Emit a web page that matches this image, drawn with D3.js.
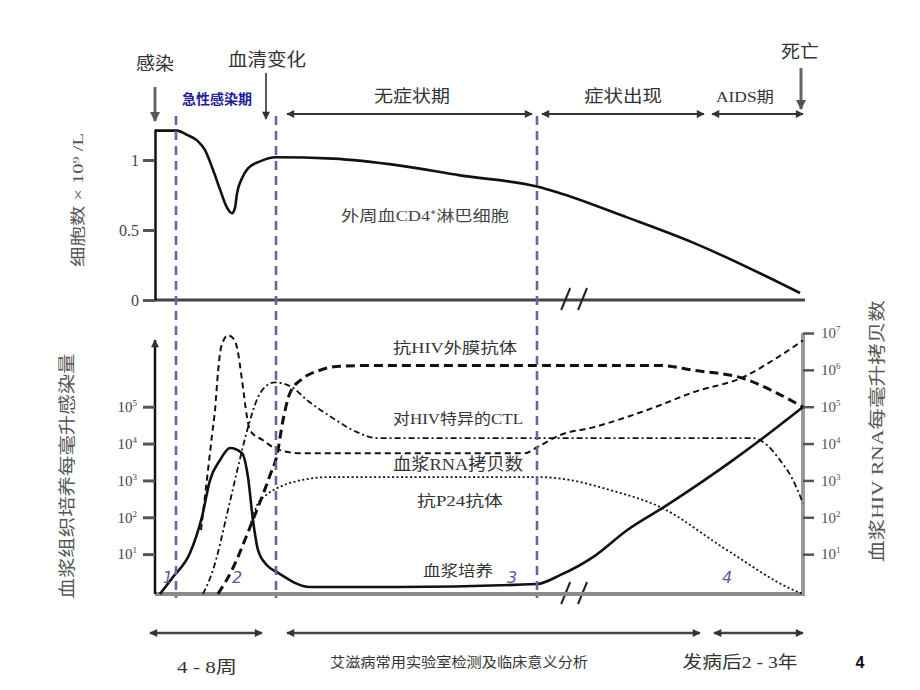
<!DOCTYPE html>
<html><head><meta charset="utf-8">
<script src="https://cdn.jsdelivr.net/npm/d3@7"></script>
<style>body{margin:0;background:#fff}svg{display:block}</style>
</head><body>
<svg id="chart" width="920" height="690"></svg>
<script>
// ---------------- DATA (x = time units 0..100, top y = 10^9/L, bottom y = log10 copies) ----------------
const cd4Count = [[0,1.21],[3.4,1.21],[4.94,1.18],[6.48,1.14],[7.72,1.07],[8.95,0.93],[10.03,0.79],[11.11,0.66],[11.88,0.62],[12.35,0.66],[12.65,0.76],[13.43,0.87],[14.35,0.94],[16.2,0.99],[18.67,1.02],[27.47,1.01],[37.81,0.96],[47.07,0.89],[58.95,0.81],[62.04,0.77],[72.84,0.59],[83.02,0.41],[99.54,0.05]];
const plasmaCulture = [[0.77,-0.08],[2.78,0.38],[5.4,1.03],[7.25,2.01],[8.49,3.01],[10.03,3.55],[11.57,3.88],[13.43,3.74],[14.35,3.09],[15.12,1.92],[15.9,1.11],[17.28,0.7],[18.83,0.51],[23.92,0.11],[37.81,0.11],[58.95,0.19],[62.5,0.43],[67.59,0.92],[72.84,1.65],[79.01,2.33],[89.2,3.55],[93.83,4.15],[100,4.99]];
const plasmaRNA = [[7.1,1.65],[8.18,3.28],[8.8,4.23],[9.26,4.91],[9.72,5.93],[10.19,6.61],[11.27,6.94],[12.19,6.83],[12.65,6.61],[13.43,5.72],[14.2,4.72],[14.66,4.36],[16.67,4.09],[18.83,3.85],[22.38,3.74],[57.1,3.74],[58.95,3.9],[62.5,4.23],[67.59,4.44],[72.84,4.72],[77.93,5.04],[83.02,5.39],[90.74,5.8],[95.37,6.26],[100,6.8]];
const ctlResponse = [[7.41,-0.08],[8.95,0.57],[11.27,2.2],[12.81,3.36],[14.35,4.44],[15.9,5.26],[17.28,5.58],[18.52,5.66],[21.14,5.53],[23.46,5.18],[27.47,4.69],[31.17,4.31],[34.26,4.15],[40.9,4.15],[92.28,4.15],[94.44,3.96],[96.45,3.55],[98.46,3.01],[100,2.38]];
const envAntibody = [[9.72,-0.08],[11.88,0.57],[14.66,1.73],[16.51,2.55],[17.75,3.14],[18.83,3.69],[19.75,4.63],[20.83,5.37],[22.84,5.77],[25.46,5.99],[28.55,6.1],[34.72,6.12],[77.93,6.12],[83.02,5.99],[90.74,5.77],[95.99,5.37],[100,4.99]];
const p24Antibody = [[14.8,1.85],[15.9,2.38],[17.13,2.6],[18.83,2.79],[21.91,2.98],[27.0,3.09],[59.41,3.09],[64.04,3.01],[70.22,2.74],[77.93,2.28],[88.27,1.11],[98.46,0.03],[100,-0.08]];
const topTicks = [0, 0.5, 1];
const topTickLabels = ["0", "0.5", "1"];
const leftLogTicks = [1, 2, 3, 4, 5];
const rightLogTicks = [1, 2, 3, 4, 5, 6, 7];
const phaseBoundaries = [3.24, 18.67, 58.95];
const phaseNumbers = [{t:2.0,label:"1"},{t:12.65,label:"2"},{t:55.1,label:"3"},{t:88.27,label:"4"}];
const topSpans = [[20.37,58.18],[59.72,84.72],[85.96,100]];
const bottomSpans = [[-0.77,16.51],[20.37,84.1],[86.27,100]];
const breakAt = [63.3, 65.9];

// ---------------- SETUP ----------------
const svg = d3.select("#chart");
const serif = "'Liberation Serif','Noto Sans CJK SC',serif";
const cjk = "'Noto Sans CJK SC',sans-serif";
const x = d3.scaleLinear().domain([0,100]).range([155,803]);
const yTop = d3.scaleLinear().domain([0,1.22]).range([300,129.2]);
const yBot = d3.scaleLinear().domain([0,7]).range([591,333]);
const topBase = 300, botBase = 594;

const defs = svg.append("defs");
function marker(id, color, w, h){
  defs.append("marker").attr("id",id).attr("viewBox","0 0 10 10").attr("refX",9).attr("refY",5)
    .attr("markerWidth",w).attr("markerHeight",h).attr("markerUnits","userSpaceOnUse")
    .attr("orient","auto-start-reverse")
    .append("path").attr("d","M0,0L10,5L0,10Z").attr("fill",color);
}
marker("ah","#333",11,8);
marker("ahg","#555",12,10);

// ---------------- TOP PANEL ----------------
svg.append("line").attr("x1",x(0)).attr("x2",x(100)+2).attr("y1",topBase).attr("y2",topBase)
  .attr("stroke","#444").attr("stroke-width",3);
const axT = svg.append("g").attr("transform",`translate(${x(0)},0)`)
  .call(d3.axisLeft(yTop).tickValues(topTicks).tickSize(12).tickSizeOuter(0)
    .tickFormat((d,i)=>topTickLabels[i]));
axT.select(".domain").attr("stroke","#111").attr("stroke-width",2.5);
axT.selectAll(".tick line").attr("stroke","#555").attr("stroke-width",3);
axT.selectAll(".tick text").attr("font-family",serif).attr("font-size",16).attr("fill","#444").attr("x",-16);

const lineTop = d3.line().x(d=>x(d[0])).y(d=>yTop(d[1])).curve(d3.curveMonotoneX);
svg.append("path").attr("d",lineTop(cd4Count)).attr("fill","none").attr("stroke","#111").attr("stroke-width",2.6);

breakAt.forEach(b=>{
  svg.append("line").attr("x1",x(b)-4).attr("x2",x(b)+5).attr("y1",topBase+10).attr("y2",topBase-12)
    .attr("stroke","#222").attr("stroke-width",2);
  svg.append("line").attr("x1",x(b)-4).attr("x2",x(b)+5).attr("y1",botBase+10).attr("y2",botBase-12)
    .attr("stroke","#222").attr("stroke-width",2);
});

svg.append("text").attr("transform","translate(80,200) rotate(-90)").attr("text-anchor","middle")
  .attr("dominant-baseline","middle").attr("font-family",serif).attr("font-size",15).attr("fill","#555")
  .attr("textLength",134).attr("lengthAdjust","spacingAndGlyphs").text("细胞数 × 10⁹ /L");
svg.append("text").attr("x",425).attr("y",221).attr("text-anchor","middle").attr("font-family",serif)
  .attr("font-size",15).attr("fill","#444").attr("textLength",168).attr("lengthAdjust","spacingAndGlyphs")
  .text("外周血CD4⁺淋巴细胞");

// ---------------- BOTTOM PANEL ----------------
svg.append("line").attr("x1",x(0)).attr("x2",x(100)+2).attr("y1",botBase).attr("y2",botBase)
  .attr("stroke","#8a8a8a").attr("stroke-width",4);
svg.append("line").attr("x1",x(0)).attr("x2",x(0)).attr("y1",botBase).attr("y2",340)
  .attr("stroke","#111").attr("stroke-width",2.5).attr("marker-end","url(#ah)");
function supTicks(g){
  g.selectAll(".tick text").each(function(d){
    const t = d3.select(this); t.text("10");
    t.append("tspan").attr("dy",-6).attr("font-size",9).text(d);
  });
}
const axL = svg.append("g").attr("transform",`translate(${x(0)},0)`)
  .call(d3.axisLeft(yBot).tickValues(leftLogTicks).tickSize(12));
axL.select(".domain").remove();
axL.selectAll(".tick line").attr("stroke","#555").attr("stroke-width",3);
axL.selectAll(".tick text").attr("font-family",serif).attr("font-size",15).attr("fill","#444").attr("x",-18);
supTicks(axL);
svg.append("line").attr("x1",x(100)).attr("x2",x(100)).attr("y1",botBase+1).attr("y2",yBot(7))
  .attr("stroke","#999").attr("stroke-width",4);
const axR = svg.append("g").attr("transform",`translate(${x(100)},0)`)
  .call(d3.axisRight(yBot).tickValues(rightLogTicks).tickSize(11));
axR.select(".domain").remove();
axR.selectAll(".tick line").attr("stroke","#555").attr("stroke-width",2.5);
axR.selectAll(".tick text").attr("font-family",serif).attr("font-size",15).attr("fill","#555").attr("x",18);
supTicks(axR);

const lineBot = d3.line().x(d=>x(d[0])).y(d=>yBot(d[1])).curve(d3.curveMonotoneX);
const seriesStyles = [
  {data:envAntibody, w:3, dash:"9,5"},
  {data:ctlResponse, w:1.8, dash:"6,3,2,3"},
  {data:plasmaRNA, w:2, dash:"6,4"},
  {data:p24Antibody, w:1.8, dash:"2,2.5"},
  {data:plasmaCulture, w:2.6, dash:null}
];
seriesStyles.forEach(s=>{
  svg.append("path").attr("d",lineBot(s.data)).attr("fill","none").attr("stroke","#111")
    .attr("stroke-width",s.w).attr("stroke-dasharray",s.dash);
});

const seriesLabels = [
  {t:"抗HIV外膜抗体", x:455, y:353, len:124},
  {t:"对HIV特异的CTL", x:458, y:424, len:130},
  {t:"血浆RNA拷贝数", x:458, y:470, len:130, fs:17},
  {t:"抗P24抗体", x:460, y:506, len:86},
  {t:"血浆培养", x:458, y:576, len:70}
];
seriesLabels.forEach(l=>{
  svg.append("text").attr("x",l.x).attr("y",l.y).attr("text-anchor","middle").attr("font-family",serif)
    .attr("font-size",l.fs||15).attr("fill","#333").attr("textLength",l.len).attr("lengthAdjust","spacingAndGlyphs").text(l.t);
});

svg.append("text").attr("transform","translate(69,476) rotate(-90)").attr("text-anchor","middle")
  .attr("dominant-baseline","middle").attr("font-family",serif).attr("font-size",17).attr("fill","#555")
  .attr("textLength",245).attr("lengthAdjust","spacingAndGlyphs").text("血浆组织培养每毫升感染量");
svg.append("text").attr("transform","translate(879,431) rotate(-90)").attr("text-anchor","middle")
  .attr("dominant-baseline","middle").attr("font-family",serif).attr("font-size",17).attr("fill","#555")
  .attr("textLength",262).attr("lengthAdjust","spacingAndGlyphs").text("血浆HIV RNA每毫升拷贝数");

// ---------------- PHASE GUIDES ----------------
phaseBoundaries.forEach(p=>{
  svg.append("line").attr("x1",x(p)).attr("x2",x(p)).attr("y1",116).attr("y2",598)
    .attr("stroke","#6464a6").attr("stroke-width",2.6).attr("stroke-dasharray","9,6");
});
phaseNumbers.forEach(p=>{
  svg.append("text").attr("x",x(p.t)).attr("y",583).attr("text-anchor","middle").attr("font-family","'DejaVu Sans',sans-serif")
    .attr("font-style","italic").attr("font-size",16).attr("fill","#5a5aa8").text(p.label);
});

// ---------------- TIMELINE ARROWS ----------------
topSpans.forEach(s=>{
  svg.append("line").attr("x1",x(s[0])).attr("x2",x(s[1])).attr("y1",114).attr("y2",114)
    .attr("stroke","#333").attr("stroke-width",2).attr("marker-start","url(#ah)").attr("marker-end","url(#ah)");
});
bottomSpans.forEach(s=>{
  svg.append("line").attr("x1",x(s[0])).attr("x2",x(s[1])).attr("y1",633).attr("y2",633)
    .attr("stroke","#444").attr("stroke-width",2.5).attr("marker-start","url(#ah)").attr("marker-end","url(#ah)");
});
svg.append("line").attr("x1",x(0)).attr("x2",x(0)).attr("y1",87).attr("y2",121)
  .attr("stroke","#666").attr("stroke-width",3).attr("marker-end","url(#ahg)");
svg.append("line").attr("x1",266).attr("x2",266).attr("y1",73).attr("y2",119)
  .attr("stroke","#222").attr("stroke-width",1.5).attr("marker-end","url(#ah)");
svg.append("line").attr("x1",801).attr("x2",801).attr("y1",68).attr("y2",109)
  .attr("stroke","#666").attr("stroke-width",3).attr("marker-end","url(#ahg)");

const notes = [
  {t:"感染", x:155, y:70, fs:18, len:38},
  {t:"血清变化", x:267, y:66, fs:18, len:78},
  {t:"无症状期", x:412, y:102, fs:17, len:76},
  {t:"症状出现", x:623, y:102, fs:17, len:78},
  {t:"AIDS期", x:745, y:102, fs:15, len:58},
  {t:"死亡", x:800, y:58, fs:18, len:38},
  {t:"4 - 8周", x:207, y:673, fs:17, len:60},
  {t:"发病后2 - 3年", x:740, y:668, fs:17, len:115}
];
notes.forEach(n=>{
  svg.append("text").attr("x",n.x).attr("y",n.y).attr("text-anchor","middle").attr("font-family",serif)
    .attr("font-size",n.fs).attr("fill","#333").attr("textLength",n.len).attr("lengthAdjust","spacingAndGlyphs").text(n.t);
});
svg.append("text").attr("x",217).attr("y",104).attr("text-anchor","middle").attr("font-family",cjk)
  .attr("font-size",14).attr("font-weight","bold").attr("fill","#1c1c9a").text("急性感染期");
svg.append("text").attr("x",459).attr("y",667).attr("text-anchor","middle").attr("font-family",cjk)
  .attr("font-size",14).attr("fill","#333").attr("textLength",258).attr("lengthAdjust","spacingAndGlyphs")
  .text("艾滋病常用实验室检测及临床意义分析");
svg.append("text").attr("x",860).attr("y",668).attr("text-anchor","middle").attr("font-family","'Liberation Sans',Arial,sans-serif")
  .attr("font-size",16).attr("font-weight","bold").attr("fill","#111").text("4");
</script>
</body></html>
